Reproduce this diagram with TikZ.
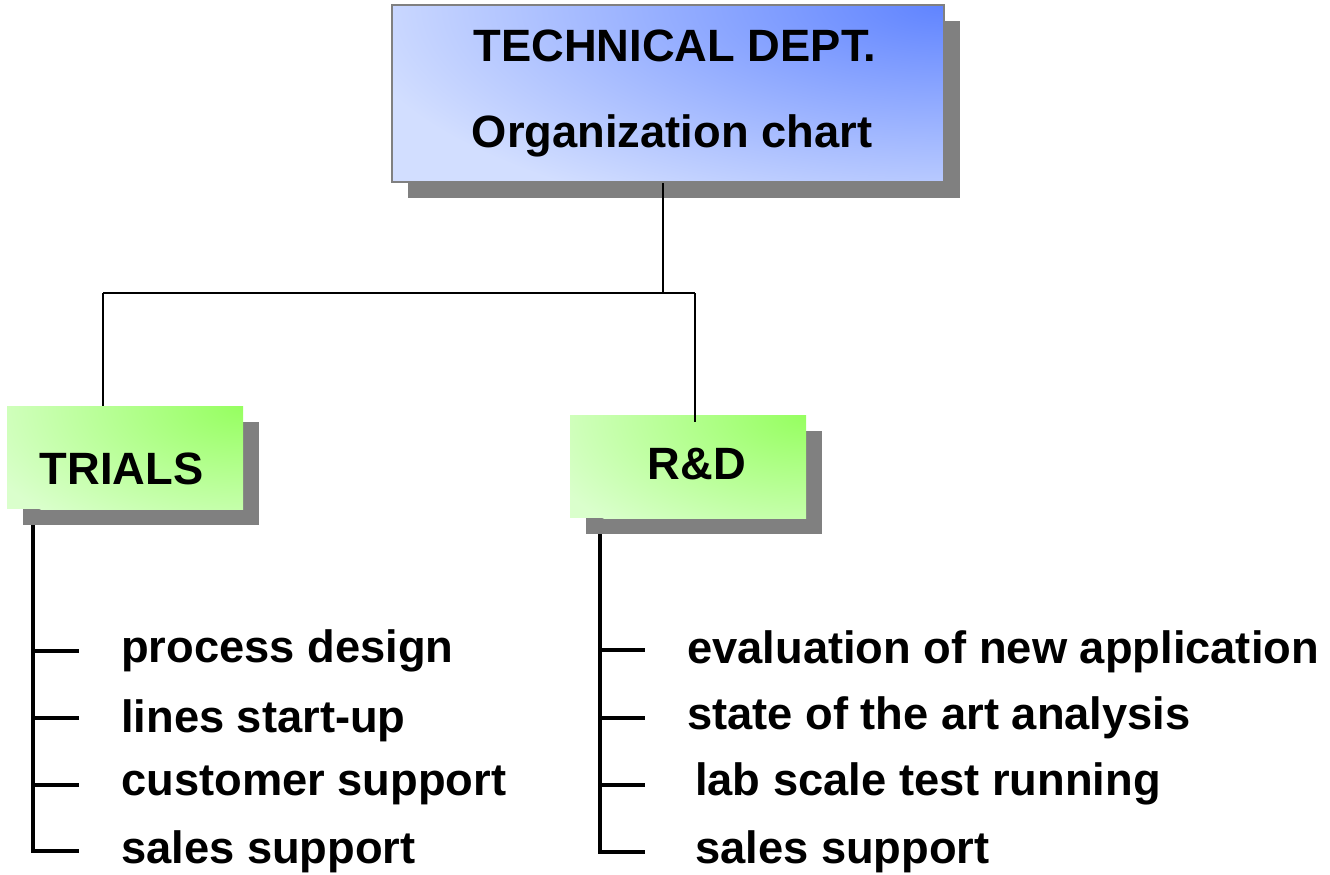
\documentclass[tikz,border=0pt]{standalone}
\usepackage{fontspec}
\setmainfont{Liberation Sans}
\usetikzlibrary{shadows}
\definecolor{shadowgray}{RGB}{128,128,128}
\definecolor{bluebase}{RGB}{210,222,255}
\definecolor{bluedeep}{RGB}{96,132,255}
\definecolor{greenbase}{RGB}{218,255,204}
\definecolor{greendeep}{RGB}{150,255,96}
\tikzset{
  boxshadow/.style={drop shadow={shadow xshift=16pt, shadow yshift=-16pt, fill=shadowgray, opacity=1}},
  titlebox/.style={rectangle, inner sep=0pt, minimum width=552pt, minimum height=177pt,
    draw=shadowgray, line width=2pt, fill=bluebase, boxshadow,
    path picture={\shade[inner color=bluedeep, outer color=bluebase]
      (path picture bounding box.north east) ellipse [x radius=600pt, y radius=230pt];}},
  unitbox/.style={rectangle, inner sep=0pt, minimum width=236pt, minimum height=103pt,
    fill=greenbase, boxshadow,
    path picture={\shade[inner color=greendeep, outer color=greenbase]
      (path picture bounding box.north east) ellipse [x radius=280pt, y radius=150pt];}},
  bigtxt/.style={inner sep=0pt, font=\fontsize{45.3}{54}\selectfont\bfseries},
  itemtxt/.style={bigtxt, anchor=base west},
  conn/.style={draw=black, line width=1.4pt},
  listline/.style={draw=black, line width=3.2pt}
}
\begin{document}
\begin{tikzpicture}[x=1pt,y=-1pt]
\useasboundingbox (0,0) rectangle (1330,875);
% boxes
\node[titlebox] (top) at (668,93.5) {};
\node[bigtxt, anchor=base] (t1) at (675,62) {TECHNICAL DEPT.};
\node[bigtxt, anchor=base] (t2) at (672,147) {Organization chart};

% connectors from the title box
\coordinate (split) at (663,293);
\coordinate (lsplit) at (103,293);
\coordinate (rsplit) at (695,293);
\draw[conn] (top.south -| split) -- (split);
\draw[conn] (lsplit) -- (rsplit);

\node[unitbox] (trials) at (125,457.5) {};
\node[bigtxt, anchor=base] (trialstxt) at (121.5,484) {TRIALS};
\node[unitbox] (rd) at (688,466.5) {};
\node[bigtxt, anchor=base] (rdtxt) at (697,479) {R\&D};

\draw[conn] (lsplit) -- (lsplit |- trials.north);
\draw[conn] (rsplit) -- ([yshift=-7pt]rsplit |- rd.north);

% TRIALS list
\node[itemtxt] (a1) at (121,662) {process design};
\node[itemtxt] (a2) at (121,732) {lines start-up};
\node[itemtxt] (a3) at (121,795) {customer support};
\node[itemtxt] (a4) at (121,863) {sales support};
\coordinate (ltop) at (33,525);
\coordinate (lt1) at (79,651);
\coordinate (lt2) at (79,718);
\coordinate (lt3) at (79,785);
\coordinate (lt4) at (79,851);
\draw[listline] (ltop) |- (lt4);
\draw[listline] (ltop |- lt1) -- (lt1);
\draw[listline] (ltop |- lt2) -- (lt2);
\draw[listline] (ltop |- lt3) -- (lt3);

% R&D list
\node[itemtxt] (b1) at (687,663) {evaluation of new application};
\node[itemtxt] (b2) at (687,729) {state of the art analysis};
\node[itemtxt] (b3) at (695,795) {lab scale test running};
\node[itemtxt] (b4) at (695,863) {sales support};
\coordinate (rtop) at (600,534);
\coordinate (rt1) at (645,650);
\coordinate (rt2) at (645,718);
\coordinate (rt3) at (645,785);
\coordinate (rt4) at (645,852);
\draw[listline] (rtop) |- (rt4);
\draw[listline] (rtop |- rt1) -- (rt1);
\draw[listline] (rtop |- rt2) -- (rt2);
\draw[listline] (rtop |- rt3) -- (rt3);
\end{tikzpicture}
\end{document}
